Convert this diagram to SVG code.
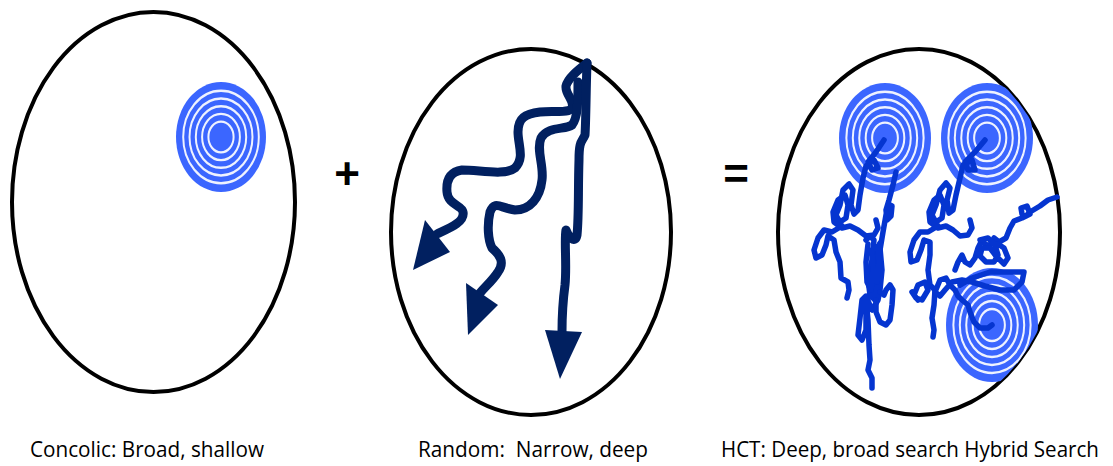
<svg xmlns="http://www.w3.org/2000/svg" xmlns:xlink="http://www.w3.org/1999/xlink" width="1113" height="466" viewBox="0 0 1113 466">
<style>
.frame{fill:#fff;stroke:#000;stroke-width:4}
.walk{fill:none;stroke:#012060;stroke-width:9;stroke-linecap:round;stroke-linejoin:round}
.head{fill:#012060}
.scrib{fill:none;stroke:#0535d0;stroke-width:5.5;stroke-linecap:round;stroke-linejoin:round}
.lbl{font-family:"Open Sans","Liberation Sans",sans-serif;font-size:18px;fill:#000}
.op{font-family:"Liberation Sans",Arial,sans-serif;font-weight:bold;font-size:44px;fill:#000;text-anchor:middle}
</style>
<defs>
<g id="target">
<circle r="50" fill="#3b66ff"/>
<g fill="none" stroke="#eef2ff" stroke-width="2.2">
<circle r="42"/><circle r="35"/><circle r="28"/><circle r="21"/><circle r="14"/>
</g>
</g>
<clipPath id="clip3"><ellipse cx="919" cy="232" rx="141" ry="183"/></clipPath>
</defs>

<g id="concolic">
<ellipse class="frame" cx="153.5" cy="202" rx="141.5" ry="190"/>
<use xlink:href="#target" transform="translate(221,137) scale(0.9,1.1)"/>
</g>

<text class="op" x="347" y="189">+</text>

<g id="random">
<ellipse class="frame" cx="531" cy="232" rx="140" ry="183"/>
<g id="connectors">
<path class="walk" d="M587,63 C578,70 568,78 566,86 C565,95 575,100 572,108 C568,114 555,110 540,112 C525,114 518,118 518,132 C518,145 525,158 515,168 C505,176 480,170 462,170 C450,172 446,180 447,192 C448,205 462,205 463,212 C465,222 450,228 437,234"/>
<path class="walk" d="M578,82 C578,100 578,118 572,125 C565,130 548,126 541,138 C536,150 544,165 542,180 C540,198 530,210 515,210 C500,208 495,200 490,212 C487,225 488,240 492,248 C500,255 505,262 498,272 C493,280 486,286 480,293"/>
<path class="walk" d="M587,63 C586,90 586,120 585,135 C582,142 579,140 579,160 C578,190 579,215 577,235 C575,245 568,236 566,230 C564,240 567,265 565,285 C563,300 562,315 562,332"/>
<polygon class="head" points="413,270 425,220 450,252"/>
<polygon class="head" points="468,335 466,283 498,305"/>
<polygon class="head" points="560,379 545,330 582,332"/>
</g>
</g>

<text class="op" x="736" y="189">=</text>

<g id="hct">
<ellipse class="frame" cx="919" cy="232" rx="141" ry="183"/>
<g clip-path="url(#clip3)">
<use xlink:href="#target" transform="translate(885,138) scale(0.92,1.1)"/>
<use xlink:href="#target" transform="translate(987,138) scale(0.92,1.1)"/>
<use xlink:href="#target" transform="translate(992,325) scale(0.92,1.14)"/>
</g>
<g class="scrib">
<polyline points="884,140 876,152 868,162 872,170 878,168 874,160 866,166 863,178 860,195 858,210 854,214 851,205 853,190 849,184 843,190 840,205 836,215 840,222 846,218 848,205 845,195 838,200 833,212 834,222 842,228 850,226 858,230 866,236 874,235 878,228 876,220"/>
<polyline points="842,226 832,232 824,230 818,238 814,250 816,258 822,255 826,245 828,236 834,240 836,252 840,262 841,278 848,282 849,290 847,298"/>
<polyline points="896,172 893,185 889,200 886,210 887,220 891,216 892,206 888,204 886,215 883,232 880,250"/>
<polyline points="866,240 870,236 874,240 872,260 868,280 870,295 875,300 877,285 876,265 878,250 880,243 876,270 874,292 880,248 882,270 880,290 878,300 872,310 866,296 862,300 860,318 858,335 862,340 866,330 866,312 862,305 866,300 868,320 869,345 870,360 868,370 872,378 872,388"/>
<polyline points="868,244 866,262 867,282 871,290 873,270 872,250 878,246 879,262 877,282"/>
<polyline points="880,292 884,295 886,290 890,285 893,290 892,305 890,320 886,325 880,322 876,312 876,300"/>
<polyline points="985,140 975,152 965,162 968,170 975,170 972,160 963,165 960,178 956,195 953,210 949,213 947,200 950,188 946,183 940,190 936,205 932,215 936,222 942,218 944,205 940,195 934,200 929,212 930,222 938,228 946,226 953,230 960,236 968,235 972,228 970,220"/>
<polyline points="938,226 928,232 920,232 914,240 910,252 911,262 917,260 921,250 924,240 930,242 930,255 928,270 930,285 935,290 934,305 932,318 934,330 933,337"/>
<polyline points="1057,197 1048,200 1040,206 1030,212 1026,216 1022,214 1021,208 1027,206 1030,214 1022,218 1014,221 1010,228 1006,238 999,242 994,238 990,246 985,244 982,240 978,248 975,258 970,265 965,262 962,255 958,262 955,270"/>
<polyline points="980,240 988,238 995,245 998,255 994,262 986,262 980,256 982,248 990,248 996,256 1004,264 1008,258 1004,248 998,244"/>
<polyline points="960,285 972,278 990,272 1010,272 1024,272 1022,282 1014,290 1000,290 985,286 972,282 962,280 952,282 945,290 940,296 935,292 940,280 946,278 950,285 955,290 958,296 962,300 968,305 970,312 974,322 980,328 988,328 992,325"/>
<polyline points="918,300 914,295 918,285 925,282 928,290 922,300 916,298 912,292"/>
</g>
</g>

<g id="labels" transform="scale(1,1.2)">
<text class="lbl" x="30" y="380.8" textLength="234" lengthAdjust="spacingAndGlyphs">Concolic: Broad, shallow</text>
<text class="lbl" x="418" y="380.8" textLength="230" lengthAdjust="spacingAndGlyphs" xml:space="preserve">Random:  Narrow, deep</text>
<text class="lbl" x="721" y="380.8" textLength="378" lengthAdjust="spacingAndGlyphs">HCT: Deep, broad search Hybrid Search</text>
</g>
</svg>
